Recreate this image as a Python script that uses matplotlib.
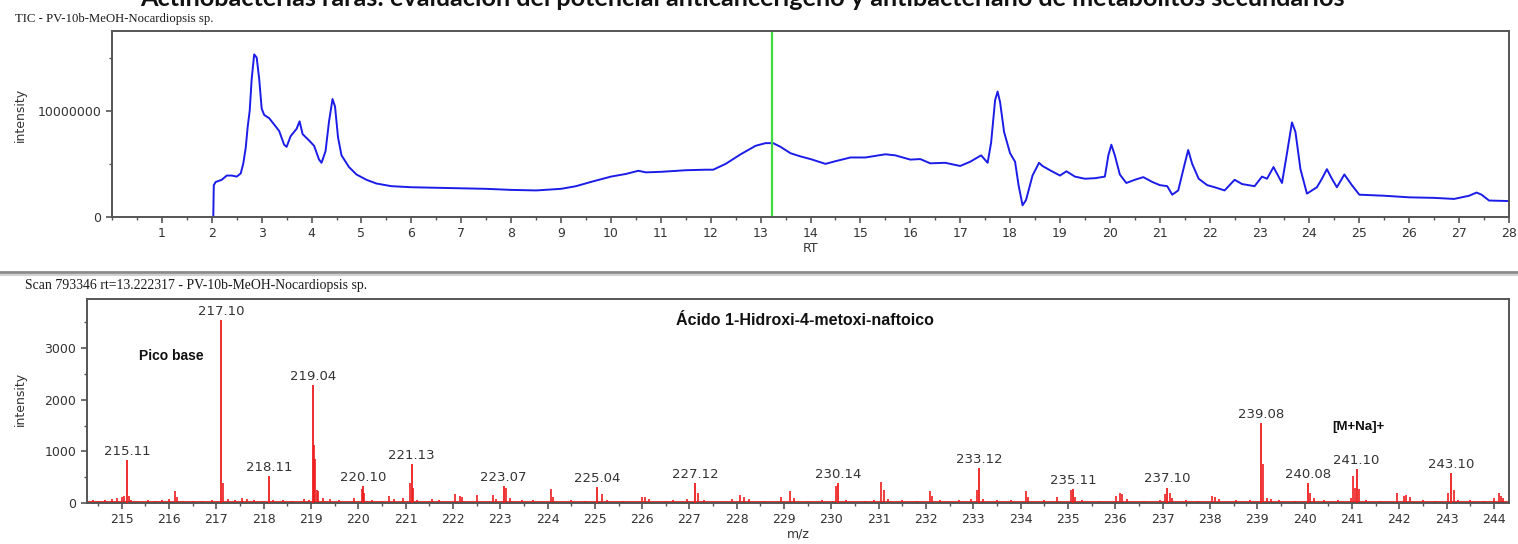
import matplotlib
matplotlib.use("Agg")
import matplotlib.pyplot as plt
from matplotlib.ticker import MultipleLocator, FixedLocator
from matplotlib.lines import Line2D

# ---------------- data ----------------
# Total ion chromatogram (retention time in min, intensity in millions of counts)
tic_rt = [2.03, 2.04, 2.08, 2.2, 2.3, 2.4, 2.5, 2.58, 2.63, 2.68, 2.72, 2.76, 2.8, 2.85,
          2.9, 2.95, 3.0, 3.05, 3.15, 3.25, 3.35, 3.45, 3.5, 3.58, 3.7, 3.76, 3.82, 3.95,
          4.05, 4.15, 4.2, 4.28, 4.35, 4.42, 4.47, 4.53, 4.6, 4.75, 4.9, 5.1, 5.3, 5.6,
          6.0, 6.5, 7.0, 7.5, 8.0, 8.5, 9.0, 9.3, 9.6, 10.0, 10.3, 10.55, 10.7, 11.0,
          11.5, 11.9, 12.05, 12.3, 12.6, 12.9, 13.1, 13.25, 13.4, 13.6, 13.8, 14.0, 14.3,
          14.5, 14.8, 15.1, 15.5, 15.7, 16.0, 16.2, 16.4, 16.7, 17.0, 17.2, 17.42, 17.55,
          17.62, 17.7, 17.75, 17.8, 17.88, 18.0, 18.1, 18.17, 18.25, 18.32, 18.45, 18.58,
          18.65, 18.8, 19.0, 19.13, 19.3, 19.5, 19.7, 19.9, 19.97, 20.03, 20.1, 20.2,
          20.33, 20.5, 20.67, 20.85, 21.0, 21.15, 21.25, 21.37, 21.5, 21.57, 21.65, 21.78,
          21.95, 22.1, 22.3, 22.5, 22.65, 22.9, 23.05, 23.15, 23.28, 23.45, 23.55, 23.65,
          23.72, 23.82, 23.95, 24.15, 24.25, 24.35, 24.45, 24.55, 24.7, 24.85, 25.0, 25.5,
          26.0, 26.5, 26.9, 27.2, 27.35, 27.45, 27.6, 28.0]
tic_int_m = [0.0, 3.0, 3.3, 3.5, 3.9, 3.9, 3.8, 4.1, 5.0, 6.5, 8.5, 10.0, 13.0, 15.3,
             15.0, 13.0, 10.2, 9.6, 9.3, 8.7, 8.1, 6.8, 6.6, 7.6, 8.3, 9.0, 7.8, 7.2,
             6.7, 5.4, 5.1, 6.2, 9.0, 11.1, 10.4, 7.5, 5.8, 4.7, 4.0, 3.5, 3.15, 2.9,
             2.8, 2.75, 2.7, 2.65, 2.55, 2.5, 2.65, 2.9, 3.3, 3.8, 4.05, 4.35, 4.2, 4.25,
             4.4, 4.45, 4.45, 5.0, 5.9, 6.7, 6.95, 6.95, 6.6, 6.0, 5.7, 5.45, 5.0,
             5.25, 5.6, 5.6, 5.9, 5.8, 5.4, 5.45, 5.05, 5.1, 4.8, 5.2, 5.8, 5.1,
             7.0, 11.0, 11.8, 10.8, 8.0, 6.0, 5.2, 3.0, 1.1, 1.6, 3.9, 5.1,
             4.8, 4.4, 3.9, 4.3, 3.8, 3.6, 3.65, 3.8, 5.8, 6.8, 5.8, 4.0,
             3.2, 3.5, 3.75, 3.3, 3.0, 2.9, 2.1, 2.5, 5.0, 6.3, 5.0, 3.6,
             3.0, 2.8, 2.5, 3.5, 3.1, 2.9, 3.8, 3.6, 4.7, 3.2, 6.0, 8.9,
             8.0, 4.5, 2.2, 2.8, 3.6, 4.5, 3.6, 2.8, 4.0, 3.0, 2.1, 2.0,
             1.85, 1.8, 1.7, 2.0, 2.3, 2.1, 1.55, 1.5]
scan_rt = 13.222317

# Mass spectrum at the selected scan: annotated peaks
peak_mz = [215.11, 217.10, 218.11, 219.04, 220.10, 221.13, 223.07, 225.04, 227.12,
           230.14, 233.12, 235.11, 237.10, 239.08, 240.08, 241.10, 243.10]
peak_int = [830, 3540, 530, 2280, 330, 750, 330, 315, 390,
            390, 685, 265, 300, 1550, 390, 660, 585]

# minor, unannotated ions
minor_mz = [214.4, 214.5, 214.65, 214.8, 214.9, 215.0, 215.05, 215.15, 215.2, 215.3,
            215.55, 215.7, 215.85, 216.0, 216.13, 216.17, 216.3, 216.5, 216.7, 216.9,
            217.15, 217.25, 217.4, 217.55, 217.65, 217.8, 218.0, 218.2, 218.4, 218.6,
            218.85, 218.95, 219.07, 219.09, 219.12, 219.15, 219.25, 219.4, 219.6, 219.9,
            220.07, 220.13, 220.3, 220.5, 220.65, 220.75, 220.95, 221.09, 221.16, 221.25,
            221.55, 221.7, 222.05, 222.15, 222.2, 222.5, 222.85, 222.9, 223.13, 223.2,
            223.45, 223.7, 224.07, 224.12, 224.5, 224.8, 225.15, 225.25, 225.6, 226.0,
            226.07, 226.15, 226.5, 226.65, 226.95, 227.17, 227.3, 227.9, 228.07, 228.15,
            228.25, 228.6, 228.93, 229.12, 229.2, 229.5, 229.8, 230.09, 230.3, 230.7,
            230.9, 231.04, 231.12, 231.2, 231.5, 231.8, 232.08, 232.13, 232.3, 232.7,
            232.95, 233.08, 233.2, 233.5, 233.8, 234.12, 234.15, 234.5, 234.77, 235.06,
            235.15, 235.3, 235.65, 236.02, 236.1, 236.15, 236.25, 236.6, 236.95, 237.05,
            237.15, 237.2, 237.5, 237.75, 238.05, 238.1, 238.2, 238.55, 238.85, 239.13,
            239.2, 239.3, 239.45, 239.8, 240.12, 240.2, 240.4, 240.7, 240.98, 241.02,
            241.06, 241.15, 241.3, 241.6, 241.96, 242.1, 242.15, 242.22, 242.5, 242.75,
            243.03, 243.15, 243.25, 243.5, 243.8, 244.0, 244.1, 244.15, 244.2]
minor_int = [60, 40, 50, 80, 100, 110, 140, 130, 60, 40,
             50, 40, 60, 70, 230, 120, 40, 35, 45, 50,
             380, 70, 60, 90, 80, 50, 40, 50, 60, 40,
             80, 60, 1120, 860, 250, 240, 90, 70, 50, 100,
             280, 200, 60, 40, 130, 70, 100, 380, 290, 60,
             80, 50, 180, 140, 120, 150, 160, 80, 290, 100,
             50, 60, 265, 120, 50, 40, 175, 60, 40, 120,
             110, 80, 40, 50, 80, 200, 50, 80, 155, 110,
             70, 40, 120, 240, 90, 40, 50, 330, 60, 40,
             60, 410, 250, 80, 50, 40, 230, 130, 60, 50,
             80, 250, 70, 60, 50, 230, 120, 50, 120, 250,
             120, 50, 40, 130, 200, 180, 80, 40, 60, 180,
             200, 100, 50, 40, 140, 110, 80, 60, 60, 750,
             90, 70, 50, 40, 200, 100, 60, 50, 90, 530,
             300, 280, 60, 40, 200, 130, 155, 110, 50, 40,
             185, 260, 60, 60, 40, 90, 200, 130, 90]
noise_floor = 25

# ---------------- figure ----------------
W, H = 1518, 544
fig = plt.figure(figsize=(W / 100, H / 100), dpi=100)
fig.patch.set_facecolor("white")

tick_color = "#333333"
spine_color = "#555555"
tick_font = "DejaVu Sans"


def fx(px):
    return px / W


def fy(px):
    return 1 - px / H


def style_axes(ax):
    for s in ax.spines.values():
        s.set_color(spine_color)
        s.set_linewidth(1.4)
    ax.tick_params(which="both", direction="out", colors=spine_color,
                   labelcolor=tick_color, labelsize=9)
    ax.tick_params(which="major", length=4, width=1.2, pad=3.5)
    ax.tick_params(which="minor", length=2.5, width=1.0)
    for lab in ax.get_xticklabels() + ax.get_yticklabels():
        lab.set_fontfamily(tick_font)


# ---- top panel: TIC ----
ax1 = fig.add_axes([fx(112), fy(217), fx(1509 - 112), (217 - 31) / H])
ax1.plot(tic_rt, [v * 1e6 for v in tic_int_m], color="#1c1ce8", lw=1.4)
ax1.axvline(scan_rt, color="#3fdc3f", lw=1.6)
ax1.set_xlim(0, 28)
ax1.set_ylim(0, 17.5e6)
ax1.xaxis.set_major_locator(MultipleLocator(1))
ax1.xaxis.set_minor_locator(MultipleLocator(0.5))
ax1.yaxis.set_major_locator(FixedLocator([0, 10000000]))
ax1.yaxis.set_minor_locator(FixedLocator([5000000, 15000000]))
ax1.set_xticks(range(1, 29))
ax1.set_yticklabels(["0", "10000000"])
style_axes(ax1)
ax1.set_xlabel("RT", fontsize=9, color=tick_color, family=tick_font, labelpad=1)

# ---- bottom panel: mass spectrum ----
ax2 = fig.add_axes([fx(86.7), fy(503), fx(1509 - 86.7), (503 - 299) / H])
ax2.axhline(noise_floor, color="#e01010", lw=1.2, zorder=1)
ax2.vlines(minor_mz, 0, minor_int, color="#ee1c1c", lw=1.2, zorder=2)
ax2.vlines(peak_mz, 0, peak_int, color="#ee1c1c", lw=1.3, zorder=3)
ax2.set_xlim(214.26, 244.32)
ax2.set_ylim(0, 3950)
ax2.xaxis.set_major_locator(MultipleLocator(1))
ax2.xaxis.set_minor_locator(MultipleLocator(0.5))
ax2.yaxis.set_major_locator(MultipleLocator(1000))
ax2.yaxis.set_minor_locator(MultipleLocator(500))
style_axes(ax2)
ax2.set_xlabel("m/z", fontsize=9, color=tick_color, family=tick_font, labelpad=1)

for m, v in zip(peak_mz, peak_int):
    ax2.annotate(f"{m:.2f}", (m, v), xytext=(0, 1.5), textcoords="offset points",
                 ha="center", va="bottom", fontsize=9.5, color=tick_color,
                 family=tick_font)

ax2.text(216.04, 2843, "Pico base", ha="center", va="center", fontsize=10,
         fontweight="bold", color="#111111", family="Liberation Sans")
ax2.text(241.14, 1476, "[M+Na]+", ha="center", va="center", fontsize=9.5,
         fontweight="bold", color="#111111", family="Liberation Sans")
ax2.text(229.45, 3540, "Ácido 1-Hidroxi-4-metoxi-naftoico", ha="center",
         va="center", fontsize=11.5, fontweight="bold", color="#111111",
         family="Liberation Sans")

# y-axis labels
fig.text(fx(20), fy(115), "intensity", rotation=90, ha="center", va="center",
         fontsize=9, color=tick_color, family=tick_font)
fig.text(fx(20), fy(399), "intensity", rotation=90, ha="center", va="center",
         fontsize=9, color=tick_color, family=tick_font)

# panel captions
cap_tic = fig.text(fx(15), fy(19), "TIC - PV-10b-MeOH-Nocardiopsis sp.",
                   ha="left", va="center", fontsize=10, color="#1a1a1a",
                   family="Liberation Serif")
cap_scan = fig.text(fx(25), fy(286),
                    "Scan 793346 rt=13.222317 - PV-10b-MeOH-Nocardiopsis sp.",
                    ha="left", va="center", fontsize=10, color="#1a1a1a",
                    family="Liberation Serif")

# separator between the two panels
fig.add_artist(Line2D([0, 1], [fy(272), fy(272)], color="#8a8a8a", lw=2.0))
fig.add_artist(Line2D([0, 1], [fy(275), fy(275)], color="#d0d0d0", lw=1.5))

# document header (partly cut off at the top edge)
header = fig.text(fx(742), fy(6),
                  "Actinobacterias raras: evaluación del potencial anticancerígeno "
                  "y antibacteriano de metabolitos secundarios",
                  ha="center", va="baseline", fontsize=16, fontweight="bold",
                  color="#111111", family="Lato")

# scale caption fonts to their printed widths
renderer = fig.canvas.get_renderer()
for txt, width_px in [(cap_tic, 198), (cap_scan, 342), (header, 1210)]:
    w = txt.get_window_extent(renderer).width
    txt.set_fontsize(txt.get_fontsize() * width_px / w)

fig.savefig("out.png", dpi=100, facecolor="white")
